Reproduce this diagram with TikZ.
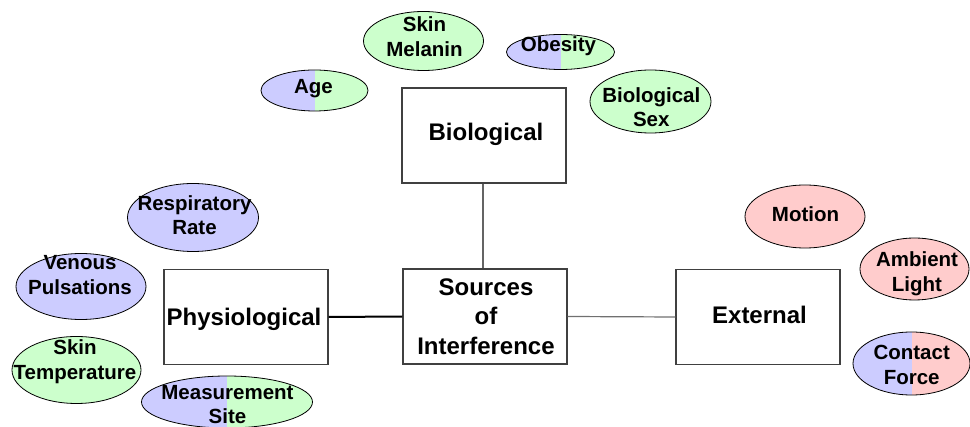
\documentclass[tikz,border=0pt]{standalone}
\usepackage{fontspec}
\setmainfont{Liberation Sans}
\usetikzlibrary{shapes.geometric}
\definecolor{cblue}{RGB}{204,204,255}
\definecolor{cgreen}{RGB}{204,255,204}
\definecolor{cpink}{RGB}{255,204,204}
\definecolor{boxline}{RGB}{64,64,64}
\definecolor{connline}{RGB}{100,100,100}
\definecolor{connlight}{RGB}{112,112,112}
\tikzset{
  bubble/.style={ellipse, draw=black, line width=0.8pt, inner sep=0pt},
  lbl/.style={anchor=north, align=center, font=\fontsize{20.5}{24.5}\selectfont\bfseries, inner sep=0pt},
  splitfill/.style 2 args={fill=#2, path picture={\fill[#1] (path picture bounding box.south west) rectangle (path picture bounding box.north);}},
  catbox/.style={draw=boxline, line width=1.1pt, fill=white, minimum width=164pt, minimum height=95pt, inner sep=0pt},
  boxtxt/.style={anchor=north, align=center, font=\fontsize{24}{29.5}\selectfont\bfseries, inner sep=0pt},
  conn/.style={draw=connline, line width=1.4pt},
}
\begin{document}
\begin{tikzpicture}[x=1pt, y=-1pt]
\useasboundingbox (0,0) rectangle (970,427);
% boxes
\node[catbox] (bio) at (484,135.5) {};
\node[catbox] (src) at (485,316.5) {};
\node[catbox] (phy) at (246,317) {};
\node[catbox] (ext) at (758,317) {};
\node[boxtxt] (biot) at (486,123) {Biological};
\node[boxtxt] (srct) at (486,278.2) {Sources\\of\\Interference};
\node[boxtxt] (phyt) at (244,308.2) {Physiological};
\node[boxtxt] (extt) at (759.5,305.6) {External};
% connectors
\draw[conn] (bio.south -| 483,0) -- (src.north -| 483,0);
\draw[line width=2pt, black] (phy.east) -- (src.west);
\draw[draw=connlight, line width=1.2pt] (src.east) -- (ext.west);
% ellipses
\node[bubble, splitfill={cblue}{cgreen}, minimum width=107pt, minimum height=41pt] (age) at (314.5,90.5) {};
\node[lbl] (aget) at (313.5,79.7) {Age};
\node[bubble, fill=cgreen, minimum width=120pt, minimum height=59pt] (mel) at (423.5,41) {};
\node[lbl] (melt) at (424.5,16.9) {Skin\\Melanin};
\node[bubble, splitfill={cblue}{cgreen}, minimum width=108pt, minimum height=35pt] (obe) at (560.5,52) {};
\node[lbl] (obet) at (558.5,36.3) {Obesity};
\node[bubble, fill=cgreen, minimum width=121pt, minimum height=63pt] (sex) at (650.5,101.5) {};
\node[lbl] (sext) at (651.3,87.2) {Biological\\Sex};
\node[bubble, fill=cblue, minimum width=131pt, minimum height=68pt] (resp) at (193,217.5) {};
\node[lbl] (respt) at (194.5,195.2) {Respiratory\\Rate};
\node[bubble, fill=cblue, minimum width=130pt, minimum height=66pt] (ven) at (81,286.5) {};
\node[lbl] (vent) at (80,255.2) {Venous\\Pulsations};
\node[bubble, fill=cgreen, minimum width=129pt, minimum height=67pt] (temp) at (76.5,370) {};
\node[lbl] (tempt) at (75,339.7) {Skin\\Temperature};
\node[bubble, splitfill={cblue}{cgreen}, minimum width=171pt, minimum height=52pt] (meas) at (227,402) {};
\node[lbl] (meast) at (227.5,385) {Measurement\\Site};
\node[bubble, fill=cpink, minimum width=120pt, minimum height=63pt] (mot) at (805,216.5) {};
\node[lbl] (mott) at (805.5,206.9) {Motion};
\node[bubble, fill=cpink, minimum width=109pt, minimum height=62pt] (amb) at (914.5,269) {};
\node[lbl] (ambt) at (917,251.5) {Ambient\\Light};
\node[bubble, splitfill={cblue}{cpink}, minimum width=117pt, minimum height=63pt] (con) at (911.5,363.5) {};
\node[lbl] (cont) at (911.7,345.2) {Contact\\Force};
\end{tikzpicture}
\end{document}
